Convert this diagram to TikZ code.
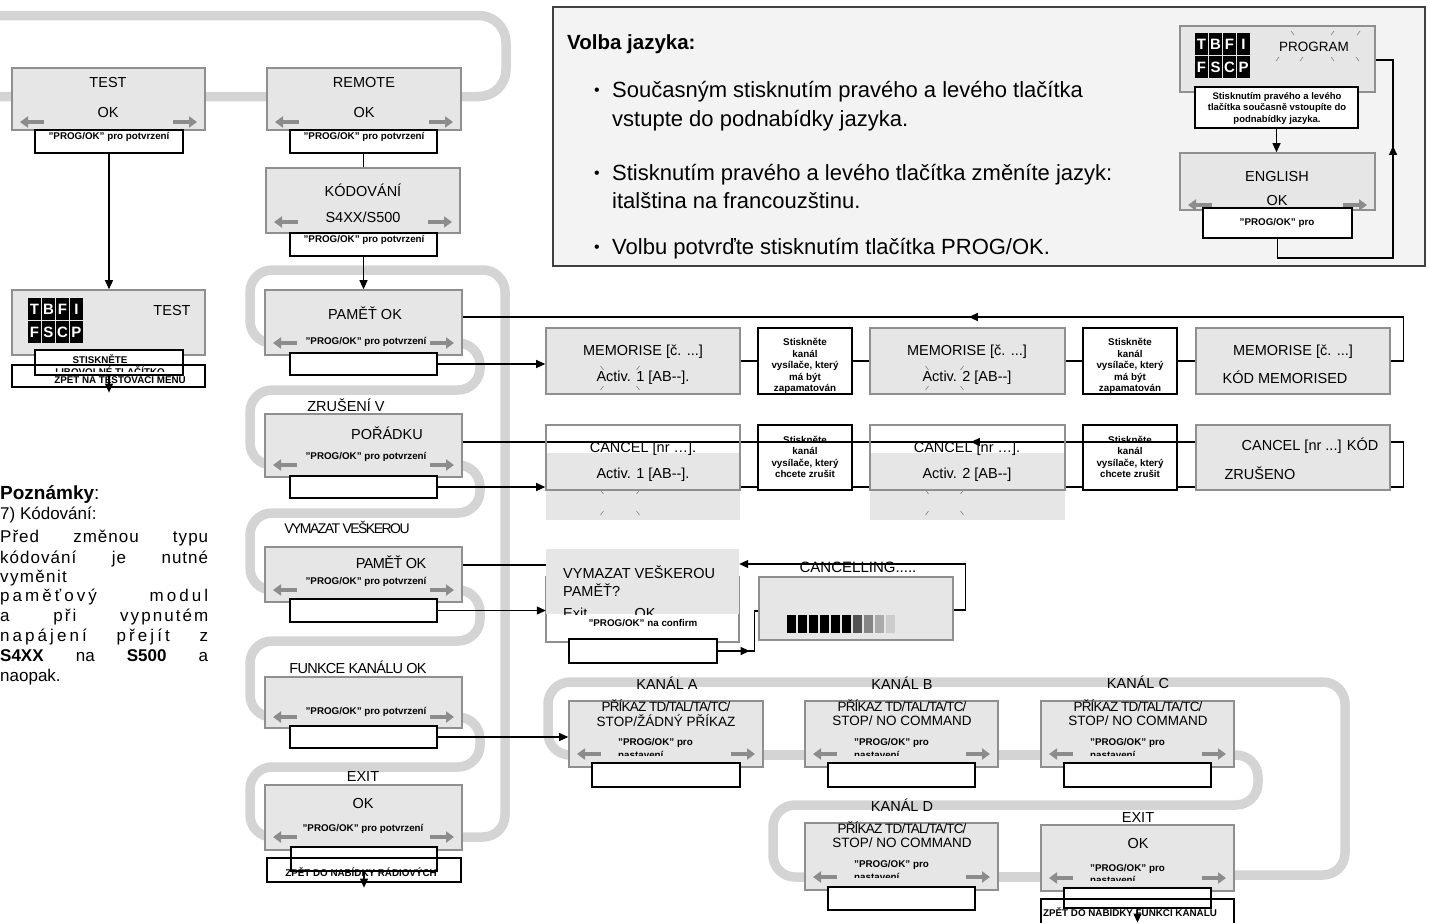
\documentclass[tikz,border=0pt]{standalone}
\usepackage{fontspec}
\setmainfont{Liberation Sans}
\usetikzlibrary{arrows.meta,fit,decorations.markings}
\definecolor{lcdfill}{HTML}{E6E6E6}
\definecolor{lcdline}{HTML}{8F8F8F}
\definecolor{bandc}{HTML}{D4D4D4}
\definecolor{garr}{HTML}{8C8C8C}
\definecolor{panelc}{HTML}{F3F3F3}
\definecolor{panelline}{HTML}{404040}
\newcommand\fMain{\fontsize{14.5pt}{16pt}\selectfont}
\newcommand\fSm{\fontsize{9.8pt}{11.5pt}\selectfont\bfseries}
\newcommand\fCh{\fontsize{13.5pt}{15pt}\selectfont}
\newcommand\fBig{\fontsize{22pt}{26pt}\selectfont}
\newcommand\fTitle{\fontsize{20.5pt}{22pt}\selectfont\bfseries}
\newcommand\fNote{\fontsize{17pt}{19pt}\selectfont}
\newcommand\fCell{\fontsize{15pt}{16pt}\selectfont\bfseries}
\pgfdeclarelayer{back}
\pgfsetlayers{back,main}
\tikzset{
 lcd/.style={draw=lcdline, fill=lcdfill, line width=1.6pt, inner sep=0pt},
 lcdframe/.style={draw=lcdline, line width=1.6pt, inner sep=0pt},
 lcdpatch/.style={fill=lcdfill, inner sep=0pt},
 sub/.style={draw=black, fill=white, line width=1.2pt, inner sep=0pt},
 subframe/.style={draw=black, line width=1.2pt, inner sep=0pt},
 band/.style={draw=bandc, line width=9.5pt, rounded corners=22pt},
 garrow/.style={draw=garr, line width=3.8pt, -{Triangle[length=8pt,width=11pt]}},
 conn/.style={draw=black, line width=1.1pt},
 arr/.style={conn, -{Triangle[length=9pt,width=8pt]}},
 midarr/.style={postaction={decorate, decoration={markings, mark=at position #1 with {\arrow{Triangle[length=9pt,width=8pt]}}}}},
 txt/.style={inner sep=0pt, font=\fMain},
 sm/.style={inner sep=0pt, font=\fSm, align=center},
 ch/.style={inner sep=0pt, font=\fCh},
 note/.style={anchor=base west, inner sep=0pt, font=\fNote},
 big/.style={anchor=base west, inner sep=0pt, font=\fBig},
 bul/.style={inner sep=0pt, font=\fontsize{16pt}{18pt}\selectfont},
 cell/.style={fill=black, text=white, minimum width=13pt, minimum height=22pt, inner sep=0pt, font=\fCell},
 blink/.style={draw=black!45, line width=0.7pt},
}
\newcommand\lcdarrows[3]{%
 \draw[garrow] (#1+32,#3) -- (#1+8,#3);
 \draw[garrow] (#2-32,#3) -- (#2-8,#3);}
\newcommand\glyphcells[3]{%
 \foreach \gl [count=\i from 0] in {T,B,F,I}{\node[cell] (#3a\i) at ({#1+\i*14+6.5},{#2+11}) {\gl};}%
 \foreach \gl [count=\i from 0] in {F,S,C,P}{\node[cell] (#3b\i) at ({#1+\i*14+6.5},{#2+34}) {\gl};}}
\newcommand\blinkpair[4]{%
 \draw[blink] (#1-1.5,#3-#4-2) -- (#1+1.5,#3-#4+2);
 \draw[blink] (#2+1.5,#3-#4-2) -- (#2-1.5,#3-#4+2);
 \draw[blink] (#1-1.5,#3+#4+2) -- (#1+1.5,#3+#4-2);
 \draw[blink] (#2+1.5,#3+#4+2) -- (#2-1.5,#3+#4-2);}
\newcommand\chtexts[5]{%
 \node[ch] (#1A) at ({#2+97},{#3+5}) {\addfontfeature{LetterSpace=-6}#4};
 \node[ch] (#1B) at ({#2+97},{#3+20}) {#5};
 \node[sm, anchor=west] (#1C) at ({#2+49},{#3+42}) {"PROG/OK" pro};
 \begin{scope}\clip ({#2},{#3+48}) rectangle ({#2+194},{#3+54.5});
 \node[sm, anchor=west] (#1D) at ({#2+49},{#3+53.5}) {nastavení};\end{scope}}
\begin{document}
\begin{tikzpicture}[x=1pt,y=-1pt]
\useasboundingbox (0,0) rectangle (1429,922);

% ---------------- gray bands
\begin{pgfonlayer}{back}
\draw[band, rounded corners=27pt] (0,15.5) -- (506,15.5) -- (506,96.5) -- (0,96.5);
\draw[band] (300,343) -- (250,343) -- (250,270) -- (505,270) -- (505,837) -- (420,837);
\draw[band] (420,343) -- (480,343) -- (480,390) -- (250,390) -- (250,465) -- (300,465);
\draw[band] (420,465) -- (480,465) -- (480,513) -- (250,513) -- (250,590) -- (300,590);
\draw[band] (420,590) -- (480,590) -- (480,641) -- (250,641) -- (250,717) -- (300,717);
\draw[band] (420,717) -- (480,717) -- (480,767) -- (250,767) -- (250,837) -- (300,837);
\draw[band] (620,755) -- (548,755) -- (548,682) -- (1345,682) -- (1345,875) -- (1180,875);
\draw[band] (700,755) -- (1100,755);
\draw[band] (1180,755) -- (1258,755) -- (1258,805) -- (773,805) -- (773,877) -- (850,877);
\draw[band] (900,877) -- (1100,877);
\end{pgfonlayer}

% ---------------- top row
\node[lcd, fit={(12,68) (205,130)}] (test) {};
\node[lcd, fit={(267,68) (461,130)}] (remote) {};
\lcdarrows{12}{205}{122}
\lcdarrows{267}{461}{122}
\node[sub, fit={(35,130) (183,153)}] (testsub) {};
\node[sub, fit={(290,130) (437,153)}] (remotesub) {};
\node[txt] (testA) at (108,83) {TEST};
\node[txt] (testB) at (108,113) {OK};
\node[sm] (testC) at (109,137) {"PROG/OK" pro potvrzení};
\node[txt] (remA) at (364,83) {REMOTE};
\node[txt] (remB) at (364,113) {OK};
\node[sm] (remC) at (364,137) {"PROG/OK" pro potvrzení};

\node[lcd, fit={(266,168) (460,233)}] (kod) {};
\lcdarrows{266}{460}{222}
\node[sub, fit={(290,233) (437,256)}] (kodsub) {};
\node[txt] (kodA) at (363,190) {KÓDOVÁNÍ};
\node[txt] (kodB) at (363,217) {S4XX/S500};
\node[sm] (kodC) at (364,240) {"PROG/OK" pro potvrzení};

% ---------------- test display
\node[lcd, fit={(12,290) (205,355)}] (test2) {};
\glyphcells{28}{298}{tt}
\node[txt] (t2A) at (172,310) {TEST};
\node[sub, fit={(35,350) (183,375)}] (t2sub) {};
\node[sub, fit={(12,365) (205,387)}] (t2low) {};
\node[sm] (t2B) at (100,359) {STISKNĚTE};
\begin{scope}
\clip (t2low.north west) rectangle (205,371);
\node[sm] (t2C) at (110,371.5) {LIBOVOLNÉ TLAČÍTKO};
\end{scope}
\node[sm] (t2D) at (120,379) {ZPĚT NA TESTOVACÍ MENU};
\node[subframe, fit={(35,350) (183,375)}] (t2subf) {};

% ---------------- menu column
\node[lcd, fit={(265,290) (462,355)}] (pam) {};
\lcdarrows{265}{462}{343}
\node[sub, fit={(290,353) (437,375)}] (pamsub) {};
\node[txt] (pamA) at (365,313) {PAMĚŤ OK};
\node[sm] (pamB) at (366,342) {"PROG/OK" pro potvrzení};

\node[lcd, fit={(265,414) (462,477)}] (zru) {};
\lcdarrows{265}{462}{465}
\node[sub, fit={(290,476) (437,498)}] (zrusub) {};
\node[txt] (zruA) at (346,405) {ZRUŠENÍ V};
\node[txt] (zruB) at (387,433) {POŘÁDKU};
\node[sm] (zruC) at (366,457) {"PROG/OK" pro potvrzení};

\node[lcd, fit={(265,547) (462,602)}] (vym) {};
\lcdarrows{265}{462}{590}
\node[sub, fit={(290,599) (437,622)}] (vymsub) {};
\node[txt, font=\fontsize{14pt}{16pt}\selectfont] (vymA) at (347,527) {\addfontfeature{LetterSpace=-11}VYMAZAT VEŠKEROU};
\node[txt] (vymB) at (391,562) {\addfontfeature{LetterSpace=-4}PAMĚŤ OK};
\node[sm] (vymC) at (366,582) {"PROG/OK" pro potvrzení};

\node[lcd, fit={(265,677) (462,728)}] (fun) {};
\lcdarrows{265}{462}{717}
\node[sub, fit={(290,726) (437,748)}] (funsub) {};
\node[txt] (funA) at (358,667) {\addfontfeature{LetterSpace=-5}FUNKCE KANÁLU OK};
\node[sm] (funC) at (366,712) {"PROG/OK" pro potvrzení};

\node[lcd, fit={(265,785) (462,850)}] (ex) {};
\lcdarrows{265}{462}{837}
\node[sub, fit={(291,847) (437,871)}] (exsub) {};
\node[sub, fit={(267,858) (461,882)}] (exlow) {};
\node[txt] (exA) at (363,776) {EXIT};
\node[txt] (exB) at (363,803) {OK};
\node[sm] (exC) at (363,829) {"PROG/OK" pro potvrzení};
\node[sm] (exD) at (361,872) {ZPĚT DO NABÍDKY RÁDIOVÝCH};
\node[subframe, fit={(291,847) (437,871)}] (exsubf) {};

\draw[arr] (testsub.south) -- (test2.north -| testsub.south);
\draw[conn] (remotesub.south) -- (kod.north -| remotesub.south);
\draw[arr] (kodsub.south) -- (pam.north -| kodsub.south);
\draw[arr] (t2subf.south) -- ++(0,17);
\draw[arr] (exsubf.south) -- ++(0,16);

% ---------------- notes
\node[anchor=base west, inner sep=0pt, font=\fontsize{19pt}{21pt}\selectfont] (n1) at (0,499) {\textbf{Poznámky}:};
\node[note] (n2) at (0,519) {7) Kódování:};
\node[note] (n3) at (0,542) {\makebox[208pt][s]{\addfontfeature{LetterSpace=6}Před změnou typu}};
\node[note] (n4) at (0,563.5) {\makebox[208pt][s]{\addfontfeature{LetterSpace=6}kódování je nutné}};
\node[note] (n5) at (0,582) {\addfontfeature{LetterSpace=8}vyměnit};
\node[note] (n6) at (0,601.5) {\makebox[208pt][s]{\addfontfeature{LetterSpace=18}paměťový modul}};
\node[note] (n7) at (0,621.5) {\makebox[208pt][s]{\addfontfeature{LetterSpace=12}a při vypnutém}};
\node[note] (n8) at (0,641.5) {\makebox[208pt][s]{\addfontfeature{LetterSpace=18}napájení přejít z}};
\node[note] (n9) at (0,661.5) {\makebox[208pt][s]{\textbf{S4XX} na \textbf{S500} a}};
\node[note] (n10) at (0,681.5) {naopak.};

% ---------------- language panel
\node[draw=panelline, fill=panelc, line width=2pt, inner sep=0pt, fit={(553,7) (1425,266)}] (panel) {};
\node[anchor=base west, inner sep=0pt, font=\fTitle] (vtitle) at (567,49) {Volba jazyka:};
\node[bul] (vb1) at (597,92) {•};
\node[big] (vl1) at (612,97) {Současným stisknutím pravého a levého tlačítka};
\node[big] (vl2) at (612,126) {vstupte do podnabídky jazyka.};
\node[bul] (vb2) at (597,175) {•};
\node[big] (vl3) at (612,180) {Stisknutím pravého a levého tlačítka změníte jazyk:};
\node[big] (vl4) at (612,208) {italština na francouzštinu.};
\node[bul] (vb3) at (597,249) {•};
\node[big] (vl5) at (612,254) {Volbu potvrďte stisknutím tlačítka PROG/OK.};

\node[lcd, fit={(1180,26) (1375,92)}] (prog) {};
\glyphcells{1195}{33}{pg}
\node[txt, font=\fontsize{13.5pt}{15pt}\selectfont] (progA) at (1314,47) {PROGRAM};
\draw[blink] (1291,31) -- (1294,35);
\draw[blink] (1334,31) -- (1331,35);
\draw[blink] (1360,31) -- (1357,35);
\draw[blink] (1276,61) -- (1279,57);
\draw[blink] (1300,61) -- (1303,57);
\draw[blink] (1334,61) -- (1331,57);
\draw[blink] (1359,61) -- (1356,57);
\node[sub, fit={(1195,87) (1358,128)}] (progsub) {};
\node[sm, font=\fontsize{9.5pt}{11.5pt}\selectfont\bfseries] (progB) at (1277,108) {Stisknutím pravého a levého\\tlačítka současně vstoupíte do\\podnabídky jazyka.};
\node[lcd, fit={(1180,153) (1375,210)}] (eng) {};
\lcdarrows{1180}{1375}{205}
\node[sub, fit={(1203,208) (1352,238)}] (engsub) {};
\node[txt] (engA) at (1277,177) {ENGLISH};
\node[txt] (engB) at (1277,201) {OK};
\node[sm] (engC) at (1277,223) {"PROG/OK" pro};
\draw[arr] (progsub.south) -- (eng.north -| progsub.south);
\draw[conn, midarr=247pt] (engsub.south) |- (1393,258) |- (prog.east |- 0,60);

% ---------------- memorise row
\node[lcd, fit={(546,328) (740,394)}] (m1) {};
\node[sub, fit={(758,328) (852,394)}] (s1) {};
\node[lcd, fit={(870,328) (1065,394)}] (m2) {};
\node[sub, fit={(1083,328) (1177,394)}] (s2) {};
\node[lcd, fit={(1196,328) (1390,394)}] (m3) {};
\node[txt] (m1A) at (643,352) {MEMORISE [č. ...]};
\node[txt] (m1B) at (643,378) {Activ. 1 [AB-{}-].};
\blinkpair{602}{638}{378}{10}
\node[txt] (m2A) at (967,352) {MEMORISE [č. ...]};
\node[txt] (m2B) at (967,378) {Activ. 2 [AB-{}-]};
\blinkpair{927}{962}{378}{10}
\node[txt] (m3A) at (1293,352) {MEMORISE [č. ...]};
\node[txt] (m3B) at (1285,377) {KÓD MEMORISED};
\begin{scope}
\clip (s1.south west) rectangle (s1.north east);
\node[sm] (s1t) at (805,366) {Stiskněte\\kanál\\vysílače, který\\má být\\zapamatován};
\end{scope}
\begin{scope}
\clip (s2.south west) rectangle (s2.north east);
\node[sm] (s2t) at (1130,366) {Stiskněte\\kanál\\vysílače, který\\má být\\zapamatován};
\end{scope}
\draw[conn] (m1.east) -- (s1.west);
\draw[conn] (s1.east) -- (m2.west);
\draw[conn] (m2.east) -- (s2.west);
\draw[conn] (s2.east) -- (m3.west);
\draw[arr] (pamsub.east) -- (m1.west |- pamsub.east);
\draw[conn, midarr=492pt] (m3.east) -- ++(13,0) |- (pam.east |- 0,317);

% ---------------- cancel row
\node[lcdpatch, fit={(546,453) (740,520)}] (c1f) {};
\node[lcdframe, fit={(546,425) (740,490)}] (c1) {};
\node[subframe, fit={(758,425) (852,490)}] (s3) {};
\node[lcdpatch, fit={(870,453) (1065,520)}] (c2f) {};
\node[lcdframe, fit={(870,425) (1065,490)}] (c2) {};
\node[subframe, fit={(1083,425) (1177,490)}] (s4) {};
\node[lcd, fit={(1196,425) (1390,490)}] (c3) {};
\node[txt] (c1A) at (643,449) {CANCEL [nr …].};
\node[txt] (c1B) at (643,475) {Activ. 1 [AB-{}-].};
\blinkpair{602}{638}{502.5}{10.5}
\node[txt] (c2A) at (967,449) {CANCEL [nr …].};
\node[txt] (c2B) at (967,475) {Activ. 2 [AB-{}-]};
\blinkpair{927}{962}{502.5}{10.5}
\node[txt] (c3A) at (1310,446) {CANCEL [nr ...] KÓD};
\node[txt] (c3B) at (1260,473) {ZRUŠENO};
\node[sm] (s3t) at (805,457) {Stiskněte\\kanál\\vysílače, který\\chcete zrušit};
\node[sm] (s4t) at (1130,457) {Stiskněte\\kanál\\vysílače, který\\chcete zrušit};
\draw[conn] (c1.east |- 0,487) -- (s3.west |- 0,487);
\draw[conn] (s3.east |- 0,487) -- (c2.west |- 0,487);
\draw[conn] (c2.east |- 0,487) -- (s4.west |- 0,487);
\draw[conn] (s4.east |- 0,487) -- (c3.west |- 0,487);
\draw[arr] (zrusub.east) -- (c1.west |- zrusub.east);
\begin{pgfonlayer}{back}
\draw[conn, midarr=491pt] (c3.east |- 0,487) -- ++(13,0) |- (zru.east |- 0,442);
\end{pgfonlayer}

% ---------------- erase-all confirmation
\node[lcdframe, fit={(546,577) (739,642)}] (vz) {};
\node[lcdpatch, fit={(546,549) (739,614)}] (vzfill) {};
\node[txt, anchor=west] (vzA) at (563,572) {VYMAZAT VEŠKEROU};
\node[txt, anchor=west] (vzB) at (563,590) {PAMĚŤ?};
\begin{scope}
\clip (vzfill.north west) rectangle (vzfill.south east);
\node[txt, anchor=west] (vzC) at (563,613) {Exit};
\node[txt] (vzD) at (645,613) {OK};
\end{scope}
\node[sm] (vzE) at (643,623) {"PROG/OK" na confirm};
\node[sub, fit={(569,639) (717,663)}] (vzsub) {};
\node[lcd, fit={(759,577) (953,640)}] (canc) {};
\node[txt, font=\fontsize{15pt}{17pt}\selectfont] (cancA) at (858,567) {CANCELLING.....};
\foreach \k/\cc in {0/black,1/black,2/black,3/black,4/black,5/black,6/black!68,7/black!48,8/black!33,9/black!20}
 \fill[\cc] ({787+\k*11},615) rectangle ({796+\k*11},633);
\draw[conn] (vym.east |- 0,565) -- (vzfill.west |- 0,565);
\draw[arr] (vymsub.east) -- (vzfill.west |- vymsub.east);
\draw[conn, midarr=32pt] (vzsub.east) -- ++(37,0) |- (canc.west |- 0,611);
\draw[arr] (canc.east |- 0,610) -- ++(12,0) |- (vzfill.east |- 0,564);

% ---------------- channel functions
\node[lcd, fit={(569,701) (763,767)}] (ka) {};
\lcdarrows{569}{763}{754}
\node[sub, fit={(592,763) (740,787)}] (kasub) {};
\chtexts{ka}{569}{701}{PŘÍKAZ TD/TAL/TA/TC/}{STOP/ŽÁDNÝ PŘÍKAZ}
\node[txt] (kaL) at (667,683) {KANÁL A};

\node[lcd, fit={(805,701) (998,767)}] (kb) {};
\lcdarrows{805}{998}{754}
\node[sub, fit={(828,763) (975,787)}] (kbsub) {};
\chtexts{kb}{805}{701}{PŘÍKAZ TD/TAL/TA/TC/}{STOP/ NO COMMAND}
\node[txt] (kbL) at (902,683) {KANÁL B};

\node[lcd, fit={(1041,701) (1234,767)}] (kc) {};
\lcdarrows{1041}{1234}{754}
\node[sub, fit={(1064,763) (1211,787)}] (kcsub) {};
\chtexts{kc}{1041}{701}{PŘÍKAZ TD/TAL/TA/TC/}{STOP/ NO COMMAND}
\node[txt] (kcL) at (1138,682) {KANÁL C};

\node[lcd, fit={(805,823) (998,890)}] (kd) {};
\lcdarrows{805}{998}{877}
\node[sub, fit={(828,887) (975,910)}] (kdsub) {};
\chtexts{kd}{805}{823}{PŘÍKAZ TD/TAL/TA/TC/}{STOP/ NO COMMAND}
\node[txt] (kdL) at (902,805) {KANÁL D};

\node[lcd, fit={(1041,825) (1234,891)}] (ke) {};
\lcdarrows{1041}{1234}{878}
\node[txt] (keL) at (1138,817) {EXIT};
\node[txt] (keA) at (1138,843) {OK};
\node[sm, anchor=west] (keB) at (1090,869) {"PROG/OK" pro};
\begin{scope}
\clip (1041,874) rectangle (1234,880.5);
\node[sm, anchor=west] (keC) at (1090,880) {nastavení};
\end{scope}
\node[sub, fit={(1064,888) (1211,908)}] (kesub) {};
\node[sub, fit={(1041,899) (1234,926)}] (kelow) {};
\node[sm] (keD) at (1130,912) {ZPĚT DO NABÍDKY FUNKCÍ KANÁLU};
\node[subframe, fit={(1064,888) (1211,908)}] (kesubf) {};
\draw[arr] (kesubf.south) -- ++(0,14);

\draw[arr] (funsub.east) -- (ka.west |- funsub.east);
\end{tikzpicture}
\end{document}
